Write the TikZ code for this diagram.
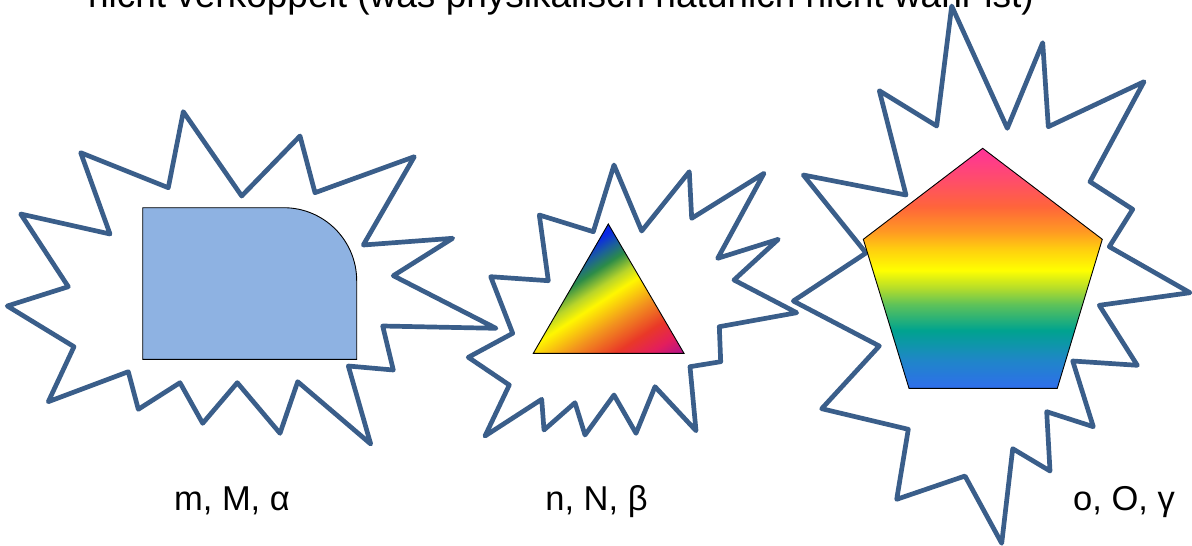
\documentclass[tikz,border=0pt]{standalone}
\usepackage{fontspec}
\setmainfont{Liberation Sans}
\usepackage{xcolor}
\usetikzlibrary{positioning}
\definecolor{burstblue}{RGB}{58,94,138}
\definecolor{boxblue}{RGB}{142,178,226}
\definecolor{trimag}{RGB}{176,18,142}
\definecolor{tricrim}{RGB}{227,30,92}
\definecolor{trired}{RGB}{233,56,40}
\definecolor{triorange}{RGB}{242,146,30}
\definecolor{triyellow}{RGB}{255,247,0}
\definecolor{trilime}{RGB}{184,212,42}
\definecolor{trigreen}{RGB}{44,140,72}
\definecolor{triteal}{RGB}{27,95,156}
\definecolor{triblue}{RGB}{10,40,230}
\definecolor{penpink}{RGB}{255,51,153}
\definecolor{penrose}{RGB}{255,77,106}
\definecolor{penred}{RGB}{255,101,58}
\definecolor{penorange}{RGB}{255,154,34}
\definecolor{pengold}{RGB}{255,204,16}
\definecolor{penyellow}{RGB}{255,255,0}
\definecolor{penlime}{RGB}{181,221,42}
\definecolor{pengreen}{RGB}{92,194,90}
\definecolor{penteal}{RGB}{0,163,143}
\definecolor{pensky}{RGB}{31,134,200}
\definecolor{penblue}{RGB}{47,110,236}
\pgfdeclareverticalshading{trirainbow}{100bp}{color(0bp)=(trimag); color(20bp)=(trimag);
  color(26bp)=(tricrim); color(32bp)=(trired); color(40bp)=(triorange);
  color(48bp)=(triyellow); color(52bp)=(trilime); color(57bp)=(trigreen);
  color(61bp)=(triteal); color(65bp)=(triblue); color(100bp)=(triblue)}
\pgfdeclareverticalshading{penrainbow}{100bp}{color(0bp)=(penblue); color(25bp)=(penblue);
  color(30.9bp)=(pensky); color(37.1bp)=(penteal); color(42.4bp)=(pengreen);
  color(45.9bp)=(penlime); color(49.6bp)=(penyellow); color(54.2bp)=(pengold);
  color(57.6bp)=(penorange); color(62.8bp)=(penred); color(68.4bp)=(penrose);
  color(74.9bp)=(penpink); color(100bp)=(penpink)}
\tikzset{
  burst/.style={draw=burstblue, line width=4.7pt, line join=round},
  lbl/.style={anchor=base, font=\fontsize{34.5}{40}\selectfont},
  edge/.style={draw=black, line width=0.9pt, line join=miter}
}

\begin{document}
\begin{tikzpicture}[x=1pt,y=-1pt]
\useasboundingbox (0,0) rectangle (1192,546);
\node[anchor=base, font=\fontsize{37}{44}\selectfont, inner sep=0pt] (title) at (561,8) {nicht verkoppelt (was physikalisch natürlich nicht wahr ist)};
\draw[burst] (183.3,111.7) -- (241.7,196) -- (300,136) -- (315,192.7) -- (414.3,156.7) -- (363.3,245)
  -- (452.7,238.3) -- (393.3,275.7) -- (496,328.3) -- (382.7,326) -- (393.3,370) -- (348.3,366)
  -- (370.7,444) -- (297.7,381.7) -- (280,433.3) -- (237.3,382.7) -- (202.7,423.3) -- (180,382.7)
  -- (138.3,409.3) -- (128.3,371.7) -- (48.3,401.7) -- (74,346.7) -- (7.3,306) -- (68.3,286.7)
  -- (20.7,214) -- (110,234) -- (80.7,152.7) -- (168.3,187.7) -- cycle;
\draw[edge, fill=boxblue] (142.7,359.3) -- (142.7,207.7) -- (283.7,207.7)
  arc[start angle=-90, end angle=0, radius=73] -- (356.7,359.3) -- cycle;
\draw[burst] (614,165) -- (641.7,231) -- (689.3,171.7) -- (691.7,218.3) -- (764,173.3) -- (717.7,258.3)
  -- (778.3,239.3) -- (734,280) -- (796.7,312.7) -- (719.3,326.7) -- (720.7,361.7) -- (690,366.7)
  -- (696,430.7) -- (655,386.7) -- (636,433.3) -- (614,395) -- (585,435) -- (575,402.7)
  -- (544,430) -- (541.7,399.3) -- (485,436) -- (509.3,385) -- (468.3,357.3) -- (512.7,333.3)
  -- (490.7,276.7) -- (548.3,280.7) -- (539.3,215) -- (593.3,231.7) -- cycle;
\begin{scope}
\clip (608.3,224) -- (684,353.3) -- (533.3,353.3) -- cycle;
\shade[shading=trirainbow, shading angle=33] (528.7,208.7) rectangle (688.7,368.7);
\end{scope}
\draw[edge] (608.3,224) -- (684,353.3) -- (533.3,353.3) -- cycle;
\draw[burst] (951.7,6) -- (1007.3,128.3) -- (1042.7,42.7) -- (1048.3,126.7) -- (1144,81.7) -- (1090,181.7)
  -- (1132.7,209.3) -- (1109.3,246.7) -- (1190,292.7) -- (1099.3,305.3) -- (1137.3,365.3) -- (1072.7,361)
  -- (1093.3,426.7) -- (1046.7,411.7) -- (1050,471) -- (1012.7,448.7) -- (1001.7,543.3) -- (965,476)
  -- (896.7,499.3) -- (908.3,429.3) -- (821.7,408.7) -- (879.3,346) -- (793.3,301) -- (866,253)
  -- (803.3,175) -- (906,195) -- (879.3,90.7) -- (936.7,126) -- cycle;
\shade[shading=penrainbow] (982.7,148.3) -- (1102.3,239.3) -- (1057.3,388.3) -- (909,388.3) -- (863.3,239.3) -- cycle;
\draw[edge] (982.7,148.3) -- (1102.3,239.3) -- (1057.3,388.3) -- (909,388.3) -- (863.3,239.3) -- cycle;
\node[lbl] (lblm) at (232,510) {m, M, α};
\node[lbl] (lbln) at (596.5,510) {n, N, β};
\node[lbl] (lblo) at (1124,510) {o, O, γ};
\end{tikzpicture}
\end{document}
